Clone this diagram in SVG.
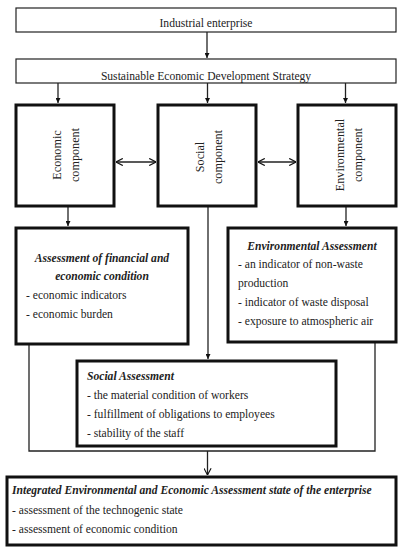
<svg xmlns="http://www.w3.org/2000/svg" width="410" height="550" viewBox="0 0 410 550">
<style>
text{font-family:"Liberation Serif","Times New Roman",serif;font-size:11.6px;fill:#222}
.bi{font-weight:bold;font-style:italic}
.c{text-anchor:middle}
.thin{fill:#fff;stroke:#222;stroke-width:1.2}
.thick{fill:#fff;stroke:#111;stroke-width:3}
.ln{fill:none;stroke:#222;stroke-width:1.3}
.rot{font-size:12.2px}
</style>
<defs>
<marker id="fa" viewBox="0 0 10 10" refX="10" refY="5" markerWidth="5" markerHeight="5" orient="auto" markerUnits="userSpaceOnUse">
<path d="M0,0 L10,5 L0,10 z" fill="#111"/>
</marker>
<marker id="oa" viewBox="0 0 10 10" refX="9.5" refY="5" markerWidth="8" markerHeight="8" orient="auto-start-reverse" markerUnits="userSpaceOnUse">
<path d="M1,0.5 L9.5,5 L1,9.5" fill="none" stroke="#111" stroke-width="1.4"/>
</marker>
</defs>
<g id="connectors">
<line class="ln" x1="207" y1="32" x2="207" y2="58" marker-end="url(#fa)" style="marker-end:url(#fa)"/>
<line class="ln" x1="58" y1="83" x2="58" y2="103" marker-end="url(#fa)"/>
<line class="ln" x1="207.5" y1="83" x2="207.5" y2="103" marker-end="url(#fa)"/>
<line class="ln" x1="345.5" y1="83" x2="345.5" y2="103" marker-end="url(#fa)"/>
<line class="ln" x1="116" y1="162" x2="156" y2="162" marker-start="url(#oa)" marker-end="url(#oa)"/>
<line class="ln" x1="258" y1="162" x2="296" y2="162" marker-start="url(#oa)" marker-end="url(#oa)"/>
<line class="ln" x1="68" y1="207" x2="68" y2="226" marker-end="url(#fa)"/>
<line class="ln" x1="346" y1="207" x2="346" y2="226" marker-end="url(#fa)"/>
<line class="ln" x1="208" y1="207" x2="208" y2="359" marker-end="url(#fa)"/>
<polyline class="ln" points="29,345 29,451 375,451 375,343"/>
<line class="ln" x1="207.5" y1="451" x2="207.5" y2="475" marker-end="url(#oa)"/>
</g>
<g id="industrial">
<rect class="thin" x="16" y="8" width="380" height="24"/>
<text class="c" x="206" y="27">Industrial enterprise</text>
</g>
<g id="strategy">
<rect class="thin" x="16" y="59" width="380" height="24"/>
<text class="c" x="206" y="80">Sustainable Economic Development Strategy</text>
</g>
<g id="economic-component">
<rect class="thick" x="16" y="105" width="98" height="101"/>
<text class="c rot" transform="translate(61,155) rotate(-90)">Economic</text>
<text class="c rot" transform="translate(79,155) rotate(-90)">component</text>
</g>
<g id="social-component">
<rect class="thick" x="158" y="105" width="98" height="101"/>
<text class="c rot" transform="translate(204,157) rotate(-90)">Social</text>
<text class="c rot" transform="translate(222,157) rotate(-90)">component</text>
</g>
<g id="environmental-component">
<rect class="thick" x="298" y="105" width="98" height="101"/>
<text class="c rot" transform="translate(344,155) rotate(-90)">Environmental</text>
<text class="c rot" transform="translate(362,155) rotate(-90)">component</text>
</g>
<g id="financial-assessment">
<rect class="thick" x="16" y="228" width="172" height="116"/>
<text class="bi c" x="102" y="262">Assessment of financial and</text>
<text class="bi c" x="102" y="280">economic condition</text>
<text x="26" y="299">- economic indicators</text>
<text x="26" y="318">- economic burden</text>
</g>
<g id="environmental-assessment">
<rect class="thick" x="228" y="228" width="168" height="114"/>
<text class="bi c" x="312" y="250">Environmental Assessment</text>
<text x="238" y="268">- an indicator of non-waste</text>
<text x="238" y="287">production</text>
<text x="238" y="306">- indicator of waste disposal</text>
<text x="238" y="325">- exposure to atmospheric air</text>
</g>
<g id="social-assessment">
<rect class="thick" x="77" y="361" width="259" height="85"/>
<text class="bi" x="87" y="380">Social Assessment</text>
<text x="87" y="399">- the material condition of workers</text>
<text x="87" y="418">- fulfillment of obligations to employees</text>
<text x="87" y="437">- stability of the staff</text>
</g>
<g id="integrated-assessment">
<rect class="thick" x="7" y="477" width="389" height="68"/>
<text class="bi" x="12" y="494">Integrated Environmental and Economic Assessment state of the enterprise</text>
<text x="12" y="514">- assessment of the technogenic state</text>
<text x="12" y="533">- assessment of economic condition</text>
</g>
</svg>
